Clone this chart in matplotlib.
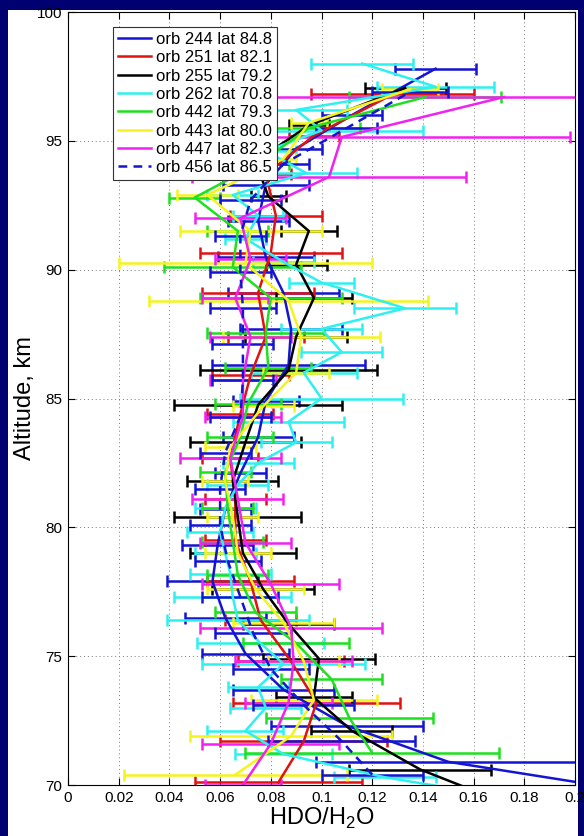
import matplotlib
matplotlib.use('Agg')
import matplotlib.pyplot as plt
from matplotlib.lines import Line2D
from matplotlib.patches import Rectangle

plt.rcParams['font.family'] = ['Liberation Sans', 'DejaVu Sans']

# ---------------- data ----------------
labels = ['orb 244 lat 84.8', 'orb 251 lat 82.1', 'orb 255 lat 79.2', 'orb 262 lat 70.8',
          'orb 442 lat 79.3', 'orb 443 lat 80.0', 'orb 447 lat 82.3', 'orb 456 lat 86.5']

alt_244 = [69.5, 70.9, 72.3, 73.7, 75.1, 76.5, 77.9, 79.3, 80.7, 82.1, 83.5, 84.9, 86.3, 87.7,
           89.1, 90.5, 91.9, 93.3, 94.7, 96.0, 97.8]
hdo_244 = [0.24, 0.15, 0.11, 0.085, 0.07, 0.062, 0.057, 0.059, 0.062, 0.068, 0.075, 0.078, 0.087,
           0.088, 0.085, 0.078, 0.075, 0.078, 0.09, 0.112, 0.145]
err_244 = [0.06, 0.052, 0.03, 0.02, 0.017, 0.016, 0.018, 0.014, 0.01, 0.01, 0.014, 0.013, 0.03,
           0.02, 0.022, 0.019, 0.012, 0.017, 0.01, 0.012, 0.016]

alt_251 = [70.1, 71.7, 73.2, 74.8, 76.4, 77.9, 79.5, 81.1, 82.7, 84.4, 85.9, 87.4, 89.1, 90.65,
           92.1, 93.7, 95.2, 96.8]
hdo_251 = [0.083, 0.093, 0.098, 0.088, 0.076, 0.072, 0.066, 0.066, 0.064, 0.068, 0.072, 0.078,
           0.075, 0.08, 0.082, 0.078, 0.097, 0.128]
err_251 = [0.033, 0.033, 0.033, 0.021, 0.014, 0.017, 0.012, 0.012, 0.011, 0.013, 0.015, 0.015,
           0.022, 0.028, 0.018, 0.01, 0.01, 0.032]

alt_255 = [69.2, 70.6, 72.1, 73.4, 74.9, 76.25, 77.6, 79.0, 80.4, 81.8, 83.3, 84.75, 86.1, 87.4,
           88.9, 90.2, 91.5, 92.85, 94.2, 95.6, 97.05]
hdo_255 = [0.175, 0.139, 0.112, 0.097, 0.099, 0.087, 0.077, 0.069, 0.067, 0.065, 0.070, 0.075,
           0.087, 0.09, 0.097, 0.09, 0.095, 0.079, 0.074, 0.095, 0.133]
err_255 = [0.03, 0.028, 0.016, 0.015, 0.022, 0.018, 0.02, 0.021, 0.025, 0.018, 0.022, 0.033,
           0.035, 0.02, 0.015, 0.012, 0.011, 0.007, 0.006, 0.008, 0.016]

alt_262 = [69.4, 70.3, 71.2, 72.1, 73.0, 73.8, 74.7, 75.5, 76.4, 77.3, 78.2, 79.0, 79.8, 80.75,
           81.65, 82.5, 83.3, 84.1, 85.0, 86.0, 86.8, 87.7, 88.5, 89.5, 90.3, 91.2, 92.1, 92.9,
           93.75, 94.6, 95.4, 96.2, 97.1, 98.0]
hdo_262 = [0.18, 0.125, 0.085, 0.07, 0.078, 0.075, 0.085, 0.076, 0.067, 0.065, 0.064, 0.062,
           0.06, 0.062, 0.067, 0.075, 0.09, 0.087, 0.1, 0.093, 0.108, 0.1, 0.133, 0.1, 0.085,
           0.07, 0.075, 0.065, 0.094, 0.078, 0.1, 0.09, 0.145, 0.116]
err_262 = [0.03, 0.02, 0.019, 0.015, 0.014, 0.012, 0.032, 0.025, 0.028, 0.023, 0.016, 0.012,
           0.013, 0.012, 0.012, 0.014, 0.014, 0.022, 0.032, 0.021, 0.016, 0.016, 0.02, 0.013,
           0.012, 0.008, 0.01, 0.01, 0.02, 0.012, 0.04, 0.02, 0.023, 0.02]

alt_442 = [71.25, 72.6, 74.1, 75.5, 76.7, 78.15, 79.45, 80.75, 82.15, 83.5, 84.8, 86.2, 87.55,
           88.9, 90.1, 91.5, 92.8, 94.1, 95.5, 96.7]
hdo_442 = [0.12, 0.111, 0.104, 0.09, 0.074, 0.067, 0.065, 0.063, 0.062, 0.068, 0.071, 0.079,
           0.078, 0.08, 0.065, 0.067, 0.05, 0.075, 0.095, 0.141]
err_442 = [0.05, 0.033, 0.02, 0.021, 0.016, 0.012, 0.012, 0.01, 0.01, 0.013, 0.013, 0.017,
           0.023, 0.028, 0.027, 0.012, 0.01, 0.012, 0.02, 0.03]

alt_443 = [70.4, 71.9, 73.3, 74.8, 76.3, 77.6, 79.0, 80.4, 81.8, 83.1, 84.7, 86.0, 87.4, 88.8,
           90.25, 91.5, 92.9, 94.3, 95.7, 97.0]
hdo_443 = [0.066, 0.088, 0.097, 0.093, 0.085, 0.074, 0.067, 0.065, 0.062, 0.064, 0.077, 0.09,
           0.092, 0.087, 0.07, 0.072, 0.055, 0.085, 0.095, 0.135]
err_443 = [0.044, 0.04, 0.025, 0.014, 0.02, 0.019, 0.013, 0.01, 0.009, 0.01, 0.012, 0.013,
           0.031, 0.055, 0.05, 0.028, 0.012, 0.005, 0.007, 0.011]

alt_447 = [70.0, 71.6, 73.2, 74.8, 76.1, 77.8, 79.4, 81.1, 82.7, 84.3, 85.7, 87.4, 88.9, 90.4,
           92.0, 93.6, 95.15, 96.7]
hdo_447 = [0.069, 0.080, 0.087, 0.089, 0.088, 0.080, 0.070, 0.067, 0.064, 0.069, 0.069, 0.072,
           0.066, 0.072, 0.068, 0.103, 0.108, 0.172]
err_447 = [0.015, 0.027, 0.017, 0.023, 0.036, 0.027, 0.018, 0.018, 0.02, 0.015, 0.013, 0.016,
           0.013, 0.014, 0.018, 0.054, 0.09, 0.1]

alt_456 = [70.4, 71.7, 73.1, 74.5, 75.9, 77.3, 78.7, 80.1, 81.5, 82.9, 84.3, 85.7, 87.1, 88.5,
           89.9, 91.3, 92.7, 94.1, 95.5, 96.9]
hdo_456 = [0.12, 0.108, 0.093, 0.08, 0.073, 0.068, 0.063, 0.06, 0.06, 0.062, 0.068, 0.069,
           0.069, 0.069, 0.068, 0.068, 0.072, 0.085, 0.11, 0.135]
err_456 = [0.02, 0.029, 0.02, 0.015, 0.015, 0.015, 0.013, 0.012, 0.01, 0.01, 0.012, 0.012,
           0.012, 0.013, 0.012, 0.01, 0.012, 0.01, 0.012, 0.015]

x_ticks = [0, 0.02, 0.04, 0.06, 0.08, 0.1, 0.12, 0.14, 0.16, 0.18, 0.2]
x_ticklabels = ['0', '0.02', '0.04', '0.06', '0.08', '0.1', '0.12', '0.14', '0.16', '0.18', '0.2']
y_ticks = [70, 75, 80, 85, 90, 95, 100]

# ---------------- styling ----------------
colors = ['#1414d2', '#e01212', '#000000', '#2ff0f0', '#1fe01f', '#f4f41c', '#f022f0', '#1414d2']
styles = ['-', '-', '-', '-', '-', '-', '-', (0, (3.5, 2.5))]

series = [(alt_244, hdo_244, err_244), (alt_251, hdo_251, err_251), (alt_255, hdo_255, err_255),
          (alt_262, hdo_262, err_262), (alt_442, hdo_442, err_442), (alt_443, hdo_443, err_443),
          (alt_447, hdo_447, err_447), (alt_456, hdo_456, err_456)]

W, H = 584, 836
fig = plt.figure(figsize=(W / 100, H / 100), dpi=100, facecolor='#000070')
panel = Rectangle((8 / W, 0), (578 - 8) / W, (H - 10) / H, transform=fig.transFigure,
                  facecolor='white', edgecolor='none', zorder=-10)
fig.add_artist(panel)
ax = fig.add_axes([68 / W, (H - 785) / H, (575 - 68) / W, (785 - 12) / H])
ax.set_zorder(5)
ax.set_facecolor('white')

for (a, v, e), c, ls in zip(series, colors, styles):
    ax.errorbar(v, a, xerr=e, color=c, ls=ls, lw=1.8, elinewidth=1.8,
                capsize=4, capthick=1.8)

ax.set_xlim(0, 0.2)
ax.set_ylim(70, 100)
ax.set_xticks(x_ticks)
ax.set_xticklabels(x_ticklabels)
ax.set_yticks(y_ticks)
ax.tick_params(direction='in', top=True, right=True, length=5, width=0.8,
               labelsize=11, pad=4, colors='black')
ax.grid(True, color='#7a7a7a', ls=(0, (1, 3)), lw=0.7)
for sp in ax.spines.values():
    sp.set_linewidth(0.8)

ax.set_xlabel('HDO/H$_{\\mathregular{2}}$O', fontsize=17, labelpad=1)
ax.set_ylabel('Altitude, km', fontsize=17, labelpad=1)

handles = [Line2D([], [], color=c, ls=ls, lw=1.8) for c, ls in zip(colors, styles)]
leg = ax.legend(handles, labels, loc='upper left', bbox_to_anchor=(0.0888, 0.9806),
                borderaxespad=0, fontsize=12, labelspacing=0.2, handlelength=2.0,
                handletextpad=0.25, borderpad=0.3, fancybox=False, framealpha=1,
                edgecolor='#333333')
leg.get_frame().set_linewidth(0.8)

fig.savefig('out.png', dpi=100, facecolor=fig.get_facecolor())
